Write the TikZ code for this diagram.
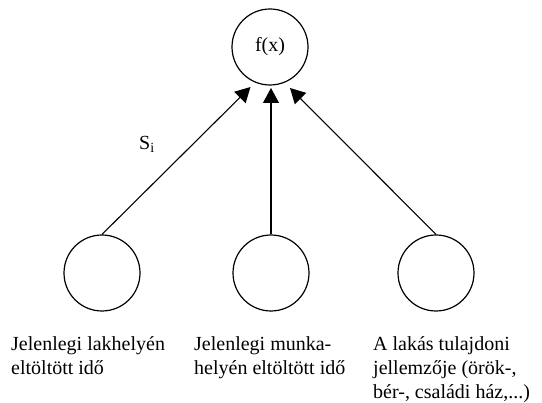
\documentclass[tikz,border=0pt]{standalone}
\usepackage{fontspec}
\setmainfont{Liberation Serif}
\usetikzlibrary{arrows.meta}
\begin{document}
\begin{tikzpicture}[x=1pt,y=-1pt,
  unit/.style={circle,draw,line width=1.2pt,minimum size=76pt,inner sep=0pt},
  link/.style={line width=1.1pt,-{Triangle[length=15pt,width=16pt]}},
  caption/.style={anchor=north west,align=left,inner sep=0pt,
    font=\fontsize{20}{24}\selectfont}]
  \useasboundingbox (0,0) rectangle (542,403);
  % output unit
  \node[unit,font=\fontsize{20}{24}\selectfont] (f) at (270,47) {f(x)};
  % input units
  \node[unit] (a) at (102,273) {};
  \node[unit] (b) at (271,273) {};
  \node[unit] (c) at (436,273) {};
  % arrow tips just below the output unit
  \coordinate (ta) at (250.5,87);
  \coordinate (tb) at (271,88);
  \coordinate (tc) at (290,88);
  \draw[link] (a.north) -- (ta);
  \draw[link] (b.north) -- (tb);
  \draw[link] (c.north) -- (tc);
  % weight label
  \node[font=\fontsize{20}{24}\selectfont,inner sep=0pt] (w) at (147,144) {S\textsubscript{i}};
  % captions
  \node[caption] (la) at (11,336) {Jelenlegi lakhelyén\\eltöltött idő};
  \node[caption] (lb) at (194,336) {Jelenlegi munka-\\helyén eltöltött idő};
  \node[caption] (lc) at (373,336) {A lakás tulajdoni\\jellemzője (örök-,\\bér-, családi ház,...)};
\end{tikzpicture}
\end{document}
